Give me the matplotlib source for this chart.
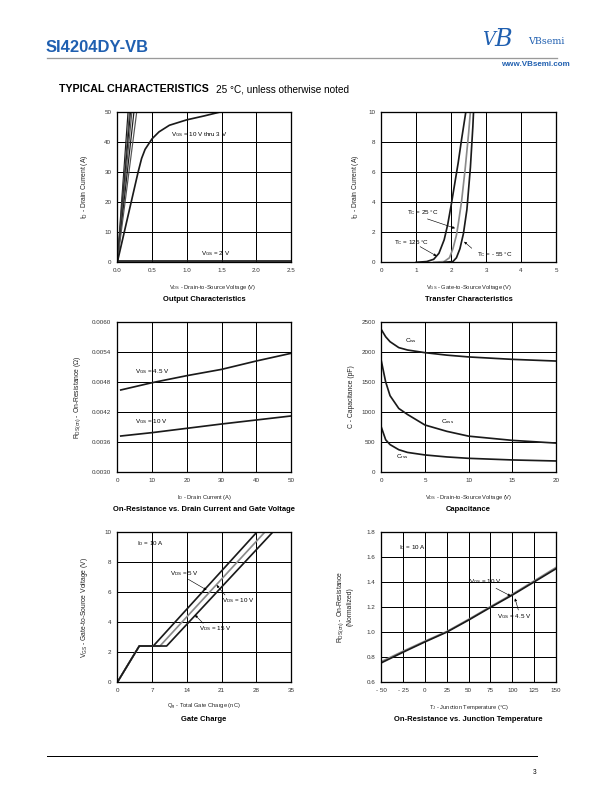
import matplotlib.pyplot as plt
import numpy as np

plt.rcParams['font.family'] = ['Liberation Sans', 'DejaVu Sans']
plt.rcParams['mathtext.fontset'] = 'custom'
plt.rcParams['mathtext.rm'] = 'Liberation Sans'
plt.rcParams['mathtext.it'] = 'Liberation Sans:italic'
plt.rcParams['mathtext.bf'] = 'Liberation Sans:bold'

# ---- data read from the datasheet page ----
# output characteristics: steep curves VGS = 10 V .. 4 V reach 50 A at these VDS
out_steep_vds = [0.155, 0.175, 0.19, 0.21, 0.24, 0.28]
out_3v_vds = [0, 0.1, 0.2, 0.3, 0.35, 0.4, 0.5, 0.6, 0.75, 1.0, 1.25, 1.5]
out_3v_id = [0, 10, 20, 30, 34.5, 37.5, 41.0, 43.3, 45.5, 47.3, 48.6, 50]
out_2v_vds = [0, 2.5]
out_2v_id = [0.3, 0.3]

# transfer characteristics
tr_125_vgs = [1.0, 1.3, 1.5, 1.65, 1.8, 1.9, 2.0, 2.1, 2.2, 2.3, 2.42]
tr_125_id = [0, 0.05, 0.2, 0.6, 1.5, 2.5, 3.8, 5.2, 6.6, 8.2, 10]
tr_25_vgs = [1.5, 1.8, 1.95, 2.05, 2.15, 2.2, 2.3, 2.4, 2.5, 2.55]
tr_25_id = [0, 0.05, 0.3, 0.9, 1.8, 2.5, 4.1, 6.2, 8.6, 10]
tr_m55_vgs = [1.8, 2.05, 2.15, 2.25, 2.35, 2.45, 2.55, 2.62, 2.64]
tr_m55_id = [0, 0.05, 0.3, 0.9, 1.9, 3.5, 6.3, 9.0, 10]

# on-resistance vs drain current
rds_id = [1, 10, 20, 30, 40, 50]
rds_45v = [0.00464, 0.004785, 0.004925, 0.00505, 0.005217, 0.00537]
rds_10v = [0.003723, 0.00379, 0.003876, 0.003962, 0.004042, 0.004122]

# capacitance
cap_vds = [0, 0.5, 1, 2, 3, 5, 7.5, 10, 15, 20]
c_iss = [2370, 2250, 2168, 2070, 2030, 1986, 1945, 1915, 1875, 1847]
c_oss = [1850, 1500, 1272, 1060, 960, 785, 680, 600, 530, 485]
c_rss = [750, 540, 460, 375, 330, 288, 255, 232, 205, 188]

# gate charge
qg_5v = [0, 4.43, 7.25, 28.2]
qg_10v = [0, 4.43, 8.6, 29.8]
qg_15v = [0, 4.43, 9.94, 31.4]
vgs_gc = [0, 2.41, 2.41, 10]

# on-resistance vs junction temperature
tj = [-50, -25, 0, 25, 50, 75, 100, 125, 150]
rn_10v = [0.755, 0.84, 0.922, 1.0, 1.096, 1.197, 1.295, 1.40, 1.505]
rn_45v = [0.765, 0.848, 0.928, 1.005, 1.102, 1.203, 1.302, 1.408, 1.515]

W, H = 612, 792
fig = plt.figure(figsize=(W / 72, H / 72), dpi=72)

DARK = '#1a1a1a'
GREY = '#8a8a8a'
BLUE = '#1f5fb0'
LBL = 5.8   # x axis label size
YLBL = 6.8  # y axis label size
ANN = 6.3   # in-plot annotation size


def ax_at(l, t, r, b):
    return fig.add_axes([l / W, 1 - b / H, (r - l) / W, (b - t) / H])


def style(ax, xlim, ylim, xt, yt, xfmt, yfmt):
    ax.set_xlim(xlim)
    ax.set_ylim(ylim)
    ax.set_xticks(xt)
    ax.set_yticks(yt)
    ax.set_xticklabels([xfmt(v) for v in xt])
    ax.set_yticklabels([yfmt(v) for v in yt])
    ax.grid(True, color='black', lw=1.0)
    ax.tick_params(length=0, labelsize=6.3, pad=6, colors='#333333')
    for s in ax.spines.values():
        s.set_linewidth(1.3)


def labels(ax, xl, yl, title, yl_x=-0.19, xl_x=0.5):
    ax.text(xl_x, -0.165, xl, transform=ax.transAxes, ha='center', va='center',
            fontsize=LBL, color='#222222')
    ax.text(0.5, -0.245, title, transform=ax.transAxes, ha='center', va='center',
            fontsize=7.6, fontweight='bold')
    ax.text(yl_x, 0.5, yl, transform=ax.transAxes, ha='center', va='center',
            fontsize=YLBL, rotation=90, color='#222222', linespacing=1.1)


def arrow(ax, head, tail):
    ax.annotate('', xy=head, xytext=tail,
                arrowprops=dict(arrowstyle='-|>', color='black', lw=0.6,
                                mutation_scale=5, shrinkA=0, shrinkB=0))


LW = 1.7
lx = (117.3, 291)
rx = (381.3, 556)
rows = [(111.7, 262.3), (321.7, 472.3), (531.7, 682.3)]

# ---- header ----
fig.text(46 / W, 1 - 47.5 / H, 'SI4204DY-VB', color=BLUE, fontsize=16.5,
         fontweight='bold', ha='left', va='center')
fig.add_artist(plt.Line2D([47 / W, 557 / W], [1 - 57.5 / H, 1 - 57.5 / H],
                          color='#9a9a9a', lw=1.3))
fig.text(503 / W, 1 - 39 / H, 'B', color=BLUE, fontsize=24, family='DejaVu Serif',
         ha='center', va='center', style='italic')
fig.text(489 / W, 1 - 40 / H, 'V', color=BLUE, fontsize=18, family='DejaVu Serif',
         ha='center', va='center', style='italic')
fig.text(546 / W, 1 - 42 / H, 'VBsemi', color=BLUE, fontsize=9.5,
         family='DejaVu Serif', ha='center', va='center')
fig.text(570 / W, 1 - 64 / H, 'www.VBsemi.com', color=BLUE, fontsize=8,
         fontweight='bold', ha='right', va='center')
fig.text(59 / W, 1 - 89 / H, 'TYPICAL CHARACTERISTICS', fontsize=10.6,
         fontweight='heavy', ha='left', va='center')
fig.text(216 / W, 1 - 89 / H, '25 °C, unless otherwise noted', fontsize=10,
         ha='left', va='center')

# ---- footer ----
fig.add_artist(plt.Line2D([47 / W, 537 / W], [1 - 756 / H, 1 - 756 / H],
                          color='black', lw=1.0))
fig.text(536 / W, 1 - 773 / H, '3', fontsize=6.5, ha='right', va='center')

f1 = lambda v: f'{v:.1f}'
f0 = lambda v: f'{v:g}'

# ---- 1: output characteristics ----
ax = ax_at(lx[0], rows[0][0], lx[1], rows[0][1])
style(ax, (0, 2.5), (0, 50), np.arange(0, 2.51, 0.5), np.arange(0, 51, 10), f1, f0)
for i, v in enumerate(out_steep_vds):
    ax.plot([0, v], [0, 50], color=DARK if i % 2 == 0 else '#555555', lw=1.2)
ax.plot(out_3v_vds, out_3v_id, color=DARK, lw=LW)
ax.plot(out_2v_vds, out_2v_id, color=DARK, lw=LW)
ax.text(0.78, 42.5, 'V$_\\mathregular{GS}$ = 10 V thru 3 V', fontsize=ANN, va='center')
ax.text(1.2, 2.8, 'V$_\\mathregular{GS}$ = 2 V', fontsize=ANN, va='center')
labels(ax, 'V$_\\mathregular{DS}$ - Drain-to-Source Voltage (V)', 'I$_\\mathregular{D}$ - Drain Current (A)',
       'Output Characteristics', xl_x=0.55)

# ---- 2: transfer characteristics ----
ax = ax_at(rx[0], rows[0][0], rx[1], rows[0][1])
style(ax, (0, 5), (0, 10), np.arange(0, 6, 1), np.arange(0, 11, 2), f0, f0)
ax.plot(tr_125_vgs, tr_125_id, color=DARK, lw=LW)
ax.plot(tr_25_vgs, tr_25_id, color=GREY, lw=LW)
ax.plot(tr_m55_vgs, tr_m55_id, color=DARK, lw=LW)
ax.text(0.73, 3.3, 'T$_\\mathregular{C}$ = 25 °C', fontsize=ANN, va='center')
arrow(ax, (2.11, 2.26), (1.32, 2.88))
ax.text(0.37, 1.3, 'T$_\\mathregular{C}$ = 125 °C', fontsize=ANN, va='center')
arrow(ax, (1.58, 0.42), (1.11, 1.04))
ax.text(2.73, 0.53, 'T$_\\mathregular{C}$ = - 55 °C', fontsize=ANN, va='center')
arrow(ax, (2.37, 1.37), (2.59, 0.93))
labels(ax, 'V$_\\mathregular{GS}$ - Gate-to-Source Voltage (V)', 'I$_\\mathregular{D}$ - Drain Current (A)',
       'Transfer Characteristics', yl_x=-0.15)

# ---- 3: on-resistance vs drain current ----
ax = ax_at(lx[0], rows[1][0], lx[1], rows[1][1])
style(ax, (0, 50), (0.0030, 0.0060), np.arange(0, 51, 10),
      np.linspace(0.0030, 0.0060, 6), f0, lambda v: f'{v:.4f}')
ax.plot(rds_id, rds_45v, color=DARK, lw=LW)
ax.plot(rds_id, rds_10v, color=DARK, lw=LW)
ax.text(5.1, 0.005004, 'V$_\\mathregular{GS}$ = 4.5 V', fontsize=ANN, va='center')
ax.text(5.1, 0.00401, 'V$_\\mathregular{GS}$ = 10 V', fontsize=ANN, va='center')
labels(ax, 'I$_\\mathregular{D}$ - Drain Current (A)', 'R$_\\mathregular{DS(on)}$ - On-Resistance (Ω)',
       'On-Resistance vs. Drain Current and Gate Voltage', yl_x=-0.23)

# ---- 4: capacitance ----
ax = ax_at(rx[0], rows[1][0], rx[1], rows[1][1])
style(ax, (0, 20), (0, 2500), np.arange(0, 21, 5), np.arange(0, 2501, 500), f0, f0)
ax.plot(cap_vds, c_iss, color=DARK, lw=LW)
ax.plot(cap_vds, c_oss, color=DARK, lw=LW)
ax.plot(cap_vds, c_rss, color=DARK, lw=LW)
ax.text(2.7, 2185, 'C$_\\mathregular{iss}$', fontsize=ANN, va='center')
ax.text(6.8, 841, 'C$_\\mathregular{oss}$', fontsize=ANN, va='center')
ax.text(1.7, 260, 'C$_\\mathregular{rss}$', fontsize=ANN, va='center')
labels(ax, 'V$_\\mathregular{DS}$ - Drain-to-Source Voltage (V)', 'C - Capacitance (pF)',
       'Capacitance', yl_x=-0.17)

# ---- 5: gate charge ----
ax = ax_at(lx[0], rows[2][0], lx[1], rows[2][1])
style(ax, (0, 35), (0, 10), np.arange(0, 36, 7), np.arange(0, 11, 2), f0, f0)
ax.plot(qg_5v, vgs_gc, color=DARK, lw=LW)
ax.plot(qg_10v, vgs_gc, color=GREY, lw=LW)
ax.plot(qg_15v, vgs_gc, color=DARK, lw=LW)
ax.text(3.9, 9.18, 'I$_\\mathregular{D}$ = 10 A', fontsize=ANN, va='center')
ax.text(10.6, 7.19, 'V$_\\mathregular{DS}$ = 5 V', fontsize=ANN, va='center')
arrow(ax, (18.0, 6.13), (14.3, 6.84))
ax.text(21.0, 5.46, 'V$_\\mathregular{DS}$ = 10 V', fontsize=ANN, va='center')
arrow(ax, (20.0, 6.46), (21.7, 5.8))
ax.text(16.5, 3.58, 'V$_\\mathregular{DS}$ = 15 V', fontsize=ANN, va='center')
arrow(ax, (15.65, 4.47), (17.3, 3.92))
labels(ax, 'Q$_\\mathregular{g}$ - Total Gate Charge (nC)', 'V$_\\mathregular{GS}$ - Gate-to-Source Voltage (V)',
       'Gate Charge')

# ---- 6: on-resistance vs junction temperature ----
ax = ax_at(rx[0], rows[2][0], rx[1], rows[2][1])
style(ax, (-50, 150), (0.6, 1.8), np.arange(-50, 151, 25),
      np.arange(0.6, 1.81, 0.2), lambda v: f'{v:g}'.replace('-', '- '), f1)
ax.plot(tj, rn_45v, color=GREY, lw=LW)
ax.plot(tj, rn_10v, color=DARK, lw=LW)
ax.text(-29.4, 1.675, 'I$_\\mathregular{D}$ = 10 A', fontsize=ANN, va='center')
ax.text(50.8, 1.40, 'V$_\\mathregular{GS}$ = 10 V', fontsize=ANN, va='center')
arrow(ax, (98.1, 1.288), (81.3, 1.349))
ax.text(82, 1.123, 'V$_\\mathregular{GS}$ = 4.5 V', fontsize=ANN, va='center')
arrow(ax, (103, 1.269), (106.9, 1.176))
labels(ax, 'T$_\\mathregular{J}$ - Junction Temperature (°C)',
       'R$_\\mathregular{DS(on)}$ - On-Resistance\n(Normalized)',
       'On-Resistance vs. Junction Temperature', yl_x=-0.21)

fig.savefig('out.png', dpi=72)
